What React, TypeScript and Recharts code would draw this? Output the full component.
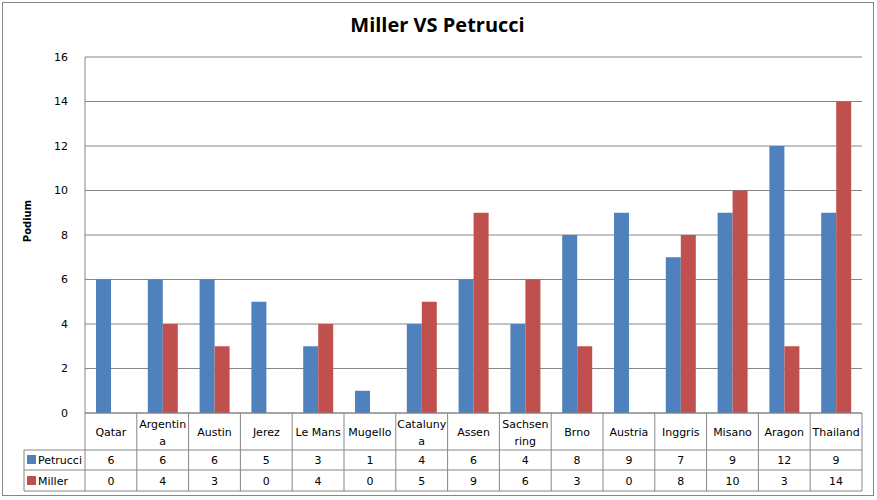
import React from 'react';
import { Bar, BarChart, CartesianGrid, XAxis, YAxis } from 'recharts';

const CATEGORIES = [
  'Qatar', 'Argentina', 'Austin', 'Jerez', 'Le Mans', 'Mugello', 'Catalunya', 'Assen',
  'Sachsenring', 'Brno', 'Austria', 'Inggris', 'Misano', 'Aragon', 'Thailand',
];
// how Excel wrapped the labels in the table cells
const TICK_LINES: string[][] = [
  ['Qatar'], ['Argentin', 'a'], ['Austin'], ['Jerez'], ['Le Mans'], ['Mugello'],
  ['Cataluny', 'a'], ['Assen'], ['Sachsen', 'ring'], ['Brno'], ['Austria'], ['Inggris'],
  ['Misano'], ['Aragon'], ['Thailand'],
];
const PETRUCCI = [6, 6, 6, 5, 3, 1, 4, 6, 4, 8, 9, 7, 9, 12, 9];
const MILLER = [0, 4, 3, 0, 4, 0, 5, 9, 6, 3, 0, 8, 10, 3, 14];
const Y_TICKS = [0, 2, 4, 6, 8, 10, 12, 14, 16];

const data = CATEGORIES.map((name, i) => ({
  name,
  petrucci: PETRUCCI[i],
  miller: MILLER[i],
}));

const BLUE = '#4F81BD';
const RED = '#C0504D';
const LINE = '#868686';
const FONT = '"DejaVu Sans", Tahoma, sans-serif';

const W = 877;
const H = 500;
const MARGIN = { top: 57, right: 15, bottom: 9, left: 8 };
const Y_AXIS_W = 77;
const X_AXIS_H = 78;
const PLOT_LEFT = MARGIN.left + Y_AXIS_W;
const PLOT_W = W - PLOT_LEFT - MARGIN.right;
const BAND = PLOT_W / CATEGORIES.length;
const LEGEND_LEFT = 24;
const ROW1 = 37; // category row height
const ROW2 = 57; // end of petrucci row
const ROW3 = X_AXIS_H; // end of miller row

function TableTick(props: any) {
  const { x, y, payload, index } = props;
  const left = x - BAND / 2;
  const right = x + BAND / 2;
  const lines = TICK_LINES[index] ?? [payload.value];
  const txt = { fontFamily: FONT, fontSize: 11, fill: '#000', textAnchor: 'middle' as const };
  return (
    <g>
      {index === 0 ? (
        <g>
          <line x1={left} x2={left} y1={y} y2={y + ROW3} stroke={LINE} />
          <line x1={LEGEND_LEFT} x2={LEGEND_LEFT} y1={y + ROW1} y2={y + ROW3} stroke={LINE} />
          {[ROW1, ROW2, ROW3].map((r) => (
            <line key={r} x1={LEGEND_LEFT} x2={left + PLOT_W} y1={y + r} y2={y + r} stroke={LINE} />
          ))}
          <rect x={LEGEND_LEFT + 3} y={y + ROW1 + 5} width={9} height={9} fill={BLUE} />
          <text x={LEGEND_LEFT + 14} y={y + ROW1 + 14} fontFamily={FONT} fontSize={11} fill="#000">
            Petrucci
          </text>
          <rect x={LEGEND_LEFT + 3} y={y + ROW2 + 6} width={9} height={9} fill={RED} />
          <text x={LEGEND_LEFT + 14} y={y + ROW2 + 15} fontFamily={FONT} fontSize={11} fill="#000">
            Miller
          </text>
        </g>
      ) : null}
      <line x1={right} x2={right} y1={y} y2={y + ROW3} stroke={LINE} />
      {lines.length === 1 ? (
        <text x={x} y={y + 23} {...txt}>{lines[0]}</text>
      ) : (
        lines.map((l, i) => (
          <text key={l} x={x} y={y + 15 + i * 17} {...txt}>{l}</text>
        ))
      )}
      <text x={x} y={y + ROW1 + 14} {...txt}>{PETRUCCI[index]}</text>
      <text x={x} y={y + ROW2 + 15} {...txt}>{MILLER[index]}</text>
    </g>
  );
}

function PodiumLabel(props: any) {
  const vb = props.viewBox ?? { y: 0, height: 0 };
  const cx = 27;
  const cy = vb.y + vb.height / 2 - 14;
  return (
    <text
      x={cx}
      y={cy}
      transform={`rotate(-90 ${cx} ${cy})`}
      textAnchor="middle"
      dominantBaseline="central"
      fontFamily={FONT}
      fontSize={10}
      fontWeight="bold"
      fill="#000"
    >
      Podium
    </text>
  );
}

export default function App() {
  return (
    <div style={{ position: 'absolute', left: 0, top: 0, width: W, height: H, background: '#fff' }}>
      <div
        style={{
          position: 'absolute',
          left: 2,
          top: 2,
          width: 872,
          height: 494,
          border: `1px solid ${LINE}`,
          boxSizing: 'border-box',
        }}
      />
      <div
        style={{
          position: 'absolute',
          left: 0,
          top: 11,
          width: W - 2,
          textAlign: 'center',
          fontFamily: '"Open Sans", sans-serif',
          fontWeight: 'bold',
          fontSize: 20,
          color: '#000',
        }}
      >
        Miller VS Petrucci
      </div>
      <BarChart width={W} height={H} data={data} margin={MARGIN} barSize={15} barGap={0}>
        <CartesianGrid vertical={false} stroke={LINE} />
        <XAxis
          dataKey="name"
          height={X_AXIS_H}
          interval={0}
          tickLine={false}
          tickSize={0}
          tickMargin={0}
          stroke={LINE}
          tick={<TableTick />}
        />
        <YAxis
          width={Y_AXIS_W}
          domain={[0, 16]}
          ticks={Y_TICKS}
          tickLine={false}
          tickMargin={11}
          stroke={LINE}
          tick={{ fill: '#000', fontSize: 11, fontFamily: FONT }}
          label={<PodiumLabel />}
        />
        <Bar dataKey="petrucci" name="Petrucci" fill={BLUE} isAnimationActive={false} />
        <Bar dataKey="miller" name="Miller" fill={RED} isAnimationActive={false} />
      </BarChart>
    </div>
  );
}
